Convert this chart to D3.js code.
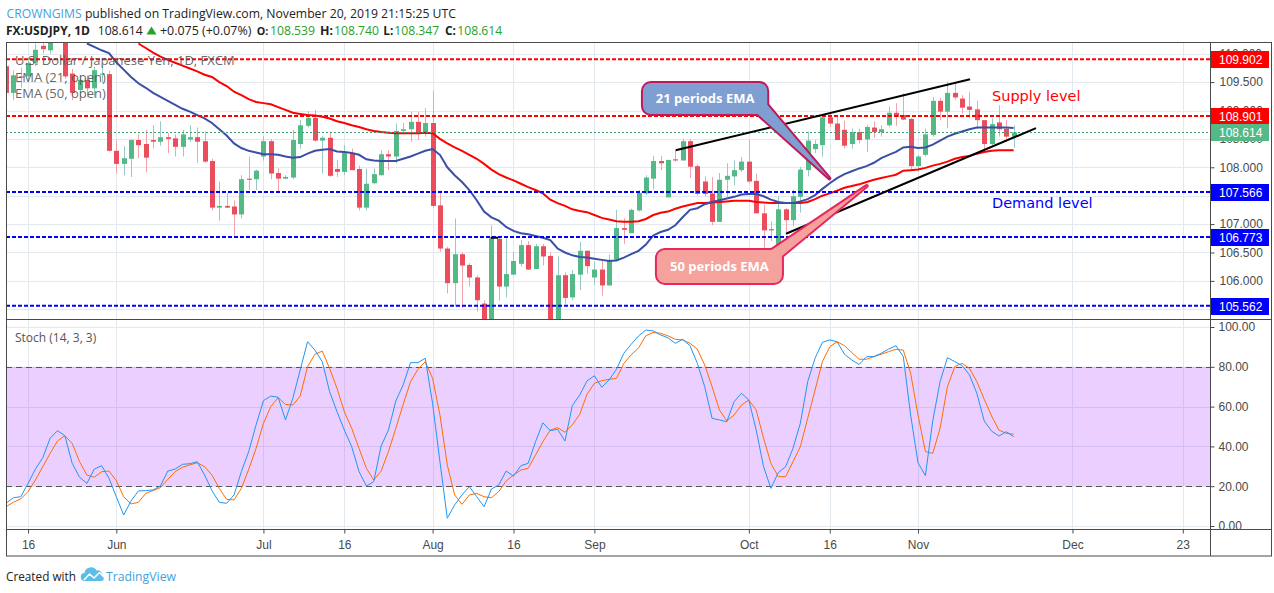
<!DOCTYPE html>
<html>
<head>
<meta charset="utf-8">
<title>USDJPY 1D</title>
<script src="https://cdn.jsdelivr.net/npm/d3@7/dist/d3.min.js"></script>
<style>
  body { margin: 0; background: #fff; }
  svg { display: block; }
</style>
</head>
<body>
<svg id="chart" width="1274" height="593"></svg>
<script>
// ---- values ----
const firstDay = "2019-05-13";
const lastAxisDay = "2019-12-31";

// daily bars from firstDay, weekdays only: [open, high, low, close]
const ohlc = [
  [109.78,109.85,109.25,109.31],[109.31,109.71,109.18,109.62],[109.60,109.75,109.40,109.58],[109.60,109.92,109.50,109.84],
  [109.84,110.18,109.78,110.07],[110.14,110.30,110.00,110.08],[110.06,110.60,110.00,110.50],[110.50,110.67,110.25,110.35],
  [110.35,110.40,109.56,109.60],[109.65,109.73,109.18,109.31],[109.36,109.62,109.25,109.54],[109.54,109.62,109.24,109.39],
  [109.39,109.77,109.23,109.71],[109.63,109.80,109.50,109.65],[109.64,109.70,108.28,108.29],
  [108.29,108.47,107.89,108.06],[108.06,108.37,107.86,108.16],[108.15,108.50,107.83,108.48],[108.48,108.58,108.16,108.39],
  [108.41,108.66,107.91,108.17],[108.48,108.74,108.33,108.45],[108.45,108.81,108.38,108.53],[108.53,108.60,108.25,108.50],
  [108.51,108.58,108.19,108.36],[108.36,108.66,108.19,108.58],[108.49,108.74,108.45,108.53],[108.53,108.70,108.08,108.45],
  [108.46,108.63,108.08,108.10],[108.11,108.15,107.24,107.29],[107.29,107.75,107.06,107.32],[107.32,107.55,107.28,107.29],
  [107.31,107.42,106.78,107.17],[107.17,107.86,107.10,107.79],[107.80,108.19,107.60,107.78],[107.79,107.96,107.60,107.94],
  [108.19,108.55,108.12,108.46],[108.46,108.50,107.79,107.89],[107.90,107.98,107.57,107.80],[107.80,107.86,107.79,107.83],
  [107.82,108.66,107.79,108.48],[108.41,108.83,108.33,108.74],[108.73,108.99,108.70,108.87],[108.87,109.01,108.45,108.47],
  [108.47,108.55,107.89,108.52],[108.52,108.63,107.83,107.85],[107.97,108.13,107.83,107.92],[107.92,108.39,107.86,108.25],
  [108.25,108.33,107.95,107.95],[107.97,108.03,107.24,107.29],[107.29,107.98,107.24,107.71],[107.72,107.98,107.70,107.88],
  [107.86,108.30,107.86,108.23],[108.23,108.30,107.95,108.19],[108.19,108.77,108.07,108.64],[108.64,108.78,108.60,108.67],
  [108.67,108.98,108.45,108.80],[108.80,108.98,108.48,108.61],[108.61,109.04,108.54,108.78],
  [108.78,109.35,107.28,107.32],[107.33,107.59,106.51,106.57],[106.57,106.60,105.78,105.96],[105.96,107.10,105.55,106.47],
  [106.47,106.50,105.52,106.27],[106.28,106.31,105.90,106.06],[106.06,106.10,105.46,105.66],[105.60,105.66,105.05,105.30],
  [105.30,106.98,105.05,106.75],[106.74,106.76,105.65,105.90],[105.90,106.75,105.71,106.12],[106.11,106.51,106.11,106.35],
  [106.30,106.72,106.25,106.63],[106.63,106.70,106.19,106.20],[106.21,106.65,106.21,106.61],[106.61,106.65,106.27,106.43],
  [106.44,106.50,105.05,105.30],[105.30,106.43,104.45,106.10],[106.10,106.15,105.60,105.70],[105.71,106.19,105.66,106.12],
  [106.11,106.69,105.84,106.53],[106.53,106.54,106.13,106.26],
  [106.06,106.34,105.93,106.20],[106.20,106.38,105.74,105.92],[105.92,106.46,105.92,106.37],[106.37,107.25,106.37,106.93],
  [106.93,107.10,106.65,106.90],[106.84,107.27,106.84,107.25],[107.24,107.60,107.22,107.55],[107.54,107.86,107.51,107.82],
  [107.80,108.20,107.61,108.11],[108.11,108.20,107.95,108.07],[107.47,108.13,107.47,108.13],[108.14,108.30,108.10,108.12],
  [108.12,108.50,108.12,108.46],[108.46,108.50,107.81,108.01],[108.02,108.05,107.50,107.53],[107.75,107.84,107.49,107.53],
  [107.54,107.83,106.98,107.04],[107.04,107.90,107.04,107.78],[107.78,108.07,107.48,107.85],[107.84,108.12,107.68,107.95],
  [107.95,108.18,107.92,108.10],
  [108.10,108.48,107.72,107.75],[107.76,107.89,107.19,107.19],[107.19,107.34,106.51,106.89],[106.91,107.05,106.70,106.89],
  [106.63,107.49,106.63,107.26],[107.26,107.28,106.86,107.07],[107.07,107.60,106.96,107.49],[107.48,108.01,107.20,107.96],
  [107.95,108.63,107.84,108.47],[108.32,108.48,108.25,108.41],[108.39,108.89,108.19,108.88],[108.88,108.94,108.71,108.77],
  [108.77,108.89,108.48,108.48],[108.66,108.82,108.33,108.38],[108.41,108.68,108.33,108.62],[108.62,108.68,108.42,108.48],
  [108.49,108.74,108.27,108.71],[108.70,108.81,108.52,108.62],[108.62,108.74,108.54,108.67],[108.74,109.07,108.71,108.96],
  [108.96,109.13,108.73,108.89],[108.92,109.30,108.83,108.84],[108.85,108.87,107.95,108.02],
  [108.02,108.22,107.92,108.19],[108.22,108.68,108.19,108.58],[108.57,109.24,108.54,109.17],[109.17,109.22,108.83,108.98],
  [108.98,109.51,108.69,109.31],[109.31,109.50,109.19,109.23],[109.21,109.27,108.95,109.05],[109.07,109.33,108.86,109.01],
  [109.02,109.17,108.67,108.83],[108.83,108.83,108.28,108.41],[108.41,108.86,108.39,108.76],[108.79,109.09,108.54,108.67],
  [108.68,108.84,108.45,108.54],[108.539,108.740,108.347,108.614]
];

// EMA (21, open), one value per bar from ema21Start
const ema21Start = "2019-05-28";
const ema21 = [
  110.18,110.12,110.06,110.01,109.85,109.72,109.59,109.48,109.40,109.31,
  109.24,109.17,109.10,109.03,108.98,108.92,108.86,108.78,108.67,108.56,
  108.42,108.34,108.29,108.26,108.23,108.23,108.22,108.19,108.17,108.18,
  108.24,108.29,108.31,108.32,108.28,108.27,108.25,108.22,108.14,108.12,
  108.11,108.11,108.11,108.15,108.19,108.24,108.29,108.32,108.22,108.00,
  107.86,107.74,107.60,107.42,107.22,107.12,107.06,106.95,106.88,106.84,
  106.82,106.79,106.76,106.72,106.57,106.50,106.45,106.42,106.41,106.39,
  106.37,106.35,106.36,106.41,106.47,106.53,106.64,106.80,106.86,106.90,
  106.98,107.12,107.25,107.28,107.35,107.39,107.42,107.45,107.48,107.52,
  107.53,107.53,107.49,107.43,107.39,107.37,107.37,107.40,107.44,107.51,
  107.62,107.72,107.81,107.88,107.93,107.98,108.02,108.08,108.16,108.22,
  108.27,108.35,108.36,108.34,108.35,108.40,108.47,108.54,108.59,108.63,
  108.67,108.70,108.70,108.70,108.70,108.70,108.69
];

// EMA (50, open), one value per bar from ema50Start
const ema50Start = "2019-06-06";
const ema50 = [
  110.18,110.10,110.02,109.95,109.89,109.84,109.79,109.74,109.69,109.63,
  109.59,109.50,109.43,109.33,109.27,109.20,109.15,109.13,109.11,109.06,
  109.01,108.96,108.94,108.92,108.91,108.89,108.86,108.81,108.78,108.74,
  108.71,108.67,108.64,108.62,108.61,108.60,108.60,108.60,108.60,108.61,
  108.60,108.50,108.42,108.35,108.29,108.22,108.15,108.06,107.96,107.88,
  107.82,107.77,107.71,107.65,107.60,107.54,107.43,107.37,107.32,107.26,
  107.23,107.21,107.16,107.11,107.08,107.05,107.04,107.04,107.05,107.09,
  107.16,107.20,107.22,107.27,107.31,107.34,107.37,107.37,107.38,107.39,
  107.40,107.41,107.41,107.41,107.39,107.38,107.37,107.37,107.37,107.37,
  107.37,107.39,107.44,107.50,107.54,107.59,107.64,107.67,107.70,107.74,
  107.78,107.81,107.84,107.87,107.94,107.95,107.96,107.99,108.03,108.06,
  108.10,108.15,108.18,108.20,108.24,108.27,108.29,108.30,108.30,108.30
];

// Stoch (14, 3, 3), one value per bar from firstDay
const stochK = [
  11.4,14.2,14.7,21.4,28.6,34.3,44.1,47.9,45.4,31.5,24.5,21.4,28.6,30.3,24.0,14.7,5.5,12.6,17.6,17.8,
  18.1,20.1,27.6,28.6,31.0,31.3,32.3,25.6,17.8,11.9,11.4,15.6,27.3,37.4,50.8,63.0,65.3,64.7,53.3,64.2,
  78.4,92.6,88.4,82.6,67.5,57.5,48.2,39.9,27.3,20.1,22.3,40.2,48.2,62.8,70.9,82.1,82.1,84.3,61.6,32.3,
  3.9,10.6,15.6,19.8,14.7,9.7,18.6,20.6,27.6,25.1,30.3,31.5,42.4,51.9,47.9,48.6,42.7,60.5,65.8,72.9,
  75.5,69.7,73.4,78.7,86.8,91.3,95.5,98.5,98.0,96.0,94.6,91.8,93.8,90.6,81.7,70.0,54.1,53.3,52.4,62.5,
  66.7,63.3,48.2,29.8,18.9,26.8,29.8,39.0,51.6,72.5,84.3,92.3,93.5,92.6,86.3,83.4,81.2,85.1,85.1,86.8,
  88.9,90.6,85.1,55.8,31.8,25.3,52.8,72.5,84.6,82.6,80.6,75.9,66.7,52.8,47.7,45.2,47.4,44.9
];
const stochD = [
  9.7,11.9,13.6,17.3,23.1,29.8,36.5,42.7,45.4,41.5,32.3,25.6,24.5,27.3,27.6,22.8,14.7,11.1,11.9,16.4,
  17.8,19.3,23.5,27.3,29.5,30.7,31.8,29.8,25.6,18.9,13.4,13.1,18.9,28.5,39.0,51.6,60.0,64.5,61.1,60.8,
  65.3,80.1,86.3,87.9,79.2,69.2,57.5,49.1,39.0,29.0,23.1,27.6,37.4,49.1,61.1,72.5,78.7,82.6,74.2,55.8,
  30.7,15.6,10.9,15.6,16.4,14.7,14.2,17.3,22.6,25.6,28.1,29.0,35.7,42.4,48.2,49.4,47.1,50.8,56.1,66.2,
  71.7,73.0,73.7,74.2,81.7,86.0,89.5,95.6,97.3,96.8,95.6,93.8,93.5,91.8,88.8,80.9,70.0,58.3,52.8,55.8,
  60.8,63.3,58.3,44.1,31.5,24.8,24.8,32.3,39.9,54.1,68.3,82.6,90.1,92.6,90.6,87.1,83.8,83.8,85.1,86.3,
  87.6,88.8,88.4,76.7,55.8,37.4,36.5,49.1,70.0,80.1,81.7,79.2,72.5,63.7,55.3,48.2,46.6,46.1
];

const supplyLevels = [109.902, 108.901];
const demandLevels = [107.566, 106.773, 105.562];
const lastPrice = 108.614;

const priceTicks = [105.5, 106, 106.5, 107, 107.5, 108, 108.5, 109, 109.5, 110];
const stochTicks = [0, 20, 40, 60, 80, 100];
const stochBand = [20, 80];
const timeTickDays = ["2019-05-16","2019-06-03","2019-07-01","2019-07-16","2019-08-01","2019-08-16",
                      "2019-09-02","2019-10-01","2019-10-16","2019-11-01","2019-12-02","2019-12-23"];
const timeTickLabels = ["16","Jun","Jul","16","Aug","16","Sep","Oct","16","Nov","Dec","23"];

// hand drawings, anchored at [bar index, price]
const trendLines = [
  [[91.05, 108.30], [131.07, 109.55]],
  [[106.05, 106.83], [140.04, 108.69]]
];
const markSegment = [[65.9, 106.76], [66.9, 106.76]];
const callouts = [
  { text: "21 periods EMA", box: [86.6, 103.5, 109.484, 108.938],
    wedge: [[102.2, 108.938], [111.94, 107.806], [103.5, 109.10]], fill: "#7f9ed2", stroke: "#c2185b" },
  { text: "50 periods EMA", box: [88.5, 105.5, 106.544, 105.963],
    wedge: [[104.1, 106.544], [117.02, 107.671], [105.5, 106.44]], fill: "#f5a29c", stroke: "#e5285f" }
];
const zoneNotes = [
  { text: "Supply level", at: [134.06, 109.167], color: "#ff0000" },
  { text: "Demand level", at: [134.06, 107.283], color: "#0000ff" }
];

// ---- layout ----
const svg = d3.select("#chart");
const F = { left: 6, right: 1210, edge: 1271, top: 42.5, main: 319, stoch: 529, bottom: 556 };
const frameColor = "#4a4a4a";
const gridColor = "#e2eaf0";
const upColor = "#53b987", downColor = "#eb4d5c";
const upWick = "#98c9c6", downWick = "#f2a2aa";
const axisFont = "'Liberation Sans', Arial, sans-serif";
const uiFont = "'Open Sans', 'Noto Sans', sans-serif";

// shrink/grow a text to a measured width
function fit(sel, width) {
  const n = sel.node(), fs = parseFloat(sel.attr("font-size"));
  const w = n.getComputedTextLength();
  if (w > 0) sel.attr("font-size", (fs * width / w).toFixed(2));
  return sel;
}

const parse = d3.utcParse("%Y-%m-%d");
const days = d3.utcDay.range(parse(firstDay), d3.utcDay.offset(parse(lastAxisDay), 1))
  .filter(d => d.getUTCDay() % 6 !== 0);
const dayIdx = new Map(days.map((d, i) => [+d, i]));
const idx = s => dayIdx.get(+parse(s));

const x = d3.scaleLinear().domain([0, 163.7]).range([F.left, F.right]);
const y = d3.scaleLinear().domain([105.3292, 110.1972]).range([F.main, F.top]);
const ys = d3.scaleLinear().domain([0, 100]).range([526, 327]);
const crisp = v => Math.round(v) + 0.5;

const defs = svg.append("defs");
defs.append("clipPath").attr("id", "clipMain").append("rect")
  .attr("x", F.left).attr("y", F.top).attr("width", F.right - F.left).attr("height", F.main - F.top);
defs.append("clipPath").attr("id", "clipStoch").append("rect")
  .attr("x", F.left).attr("y", F.main).attr("width", F.right - F.left).attr("height", F.stoch - F.main);

// grid
const tickIdx = timeTickDays.map(idx);
const grid = svg.append("g").attr("stroke", gridColor).attr("stroke-width", 1);
grid.selectAll(".vg").data(tickIdx).join("line").attr("class", "vg")
  .attr("x1", d => crisp(x(d))).attr("x2", d => crisp(x(d)))
  .attr("y1", F.top).attr("y2", F.stoch);
grid.selectAll(".hg").data(priceTicks).join("line").attr("class", "hg")
  .attr("x1", F.left).attr("x2", F.right)
  .attr("y1", d => crisp(y(d))).attr("y2", d => crisp(y(d)));
grid.selectAll(".sg").data(stochTicks).join("line").attr("class", "sg")
  .attr("x1", F.left).attr("x2", F.right)
  .attr("y1", d => crisp(ys(d))).attr("y2", d => crisp(ys(d)));

// ---- main pane ----
const main = svg.append("g").attr("clip-path", "url(#clipMain)");
const bars = ohlc.map((r, i) => ({ i, o: r[0], h: r[1], l: r[2], c: r[3] }));

main.selectAll(".wick").data(bars).join("line").attr("class", "wick")
  .attr("x1", d => crisp(x(d.i))).attr("x2", d => crisp(x(d.i)))
  .attr("y1", d => y(d.h)).attr("y2", d => y(d.l))
  .attr("stroke", d => d.c >= d.o ? upWick : downWick);
main.selectAll(".body").data(bars).join("rect").attr("class", "body")
  .attr("x", d => Math.round(x(d.i)) - 2)
  .attr("width", 5)
  .attr("y", d => y(Math.max(d.o, d.c)))
  .attr("height", d => Math.max(1, Math.abs(y(d.o) - y(d.c))))
  .attr("fill", d => d.c >= d.o ? upColor : downColor);

const emaLine = start => d3.line().x((d, k) => x(idx(start) + k)).y(d => y(d));
main.append("path").datum(ema50).attr("d", emaLine(ema50Start))
  .attr("fill", "none").attr("stroke", "#ff0000").attr("stroke-width", 2);
main.append("path").datum(ema21).attr("d", emaLine(ema21Start))
  .attr("fill", "none").attr("stroke", "#3b4fa6").attr("stroke-width", 2);

// horizontal levels
main.selectAll(".sup").data(supplyLevels).join("line").attr("class", "sup")
  .attr("x1", F.left).attr("x2", F.right).attr("y1", d => y(d)).attr("y2", d => y(d))
  .attr("stroke", "#ff0000").attr("stroke-width", 2).attr("stroke-dasharray", "4,2");
main.selectAll(".dem").data(demandLevels).join("line").attr("class", "dem")
  .attr("x1", F.left).attr("x2", F.right).attr("y1", d => y(d)).attr("y2", d => y(d))
  .attr("stroke", "#0000ff").attr("stroke-width", 2).attr("stroke-dasharray", "4,2");
main.append("line")
  .attr("x1", F.left).attr("x2", F.right).attr("y1", crisp(y(lastPrice))).attr("y2", crisp(y(lastPrice)))
  .attr("stroke", "#3f9e6a").attr("stroke-dasharray", "2,2");

// trend lines
main.selectAll(".trend").data(trendLines).join("line").attr("class", "trend")
  .attr("x1", d => x(d[0][0])).attr("y1", d => y(d[0][1]))
  .attr("x2", d => x(d[1][0])).attr("y2", d => y(d[1][1]))
  .attr("stroke", "#000").attr("stroke-width", 2);
main.append("line")
  .attr("x1", x(markSegment[0][0])).attr("y1", y(markSegment[0][1]))
  .attr("x2", x(markSegment[1][0])).attr("y2", y(markSegment[1][1]))
  .attr("stroke", "#000").attr("stroke-width", 2);

// callouts
callouts.forEach(c => {
  const g = main.append("g");
  const bx = x(c.box[0]), bw = x(c.box[1]) - bx, by = y(c.box[2]), bh = y(c.box[3]) - by;
  const wedge = "M" + c.wedge.map(([i, p]) => [x(i), y(p)]).join("L") + "Z";
  g.append("path").attr("d", wedge).attr("fill", c.stroke).attr("stroke", c.stroke)
    .attr("stroke-width", 4).attr("stroke-linejoin", "round");
  g.append("rect").attr("x", bx).attr("y", by).attr("width", bw).attr("height", bh).attr("rx", 8)
    .attr("fill", c.stroke).attr("stroke", c.stroke).attr("stroke-width", 4);
  g.append("path").attr("d", wedge).attr("fill", c.fill);
  g.append("rect").attr("x", bx).attr("y", by).attr("width", bw).attr("height", bh).attr("rx", 8)
    .attr("fill", c.fill);
  g.append("text").attr("x", bx + bw / 2).attr("y", by + bh / 2).attr("dy", "0.36em")
    .attr("text-anchor", "middle").attr("fill", "#fff")
    .attr("font-family", uiFont).attr("font-weight", 700).attr("font-size", 13)
    .text(c.text);
});

main.selectAll(".zone").data(zoneNotes).join("text").attr("class", "zone")
  .attr("x", d => x(d.at[0])).attr("y", d => y(d.at[1]))
  .attr("fill", d => d.color).attr("font-family", "'DejaVu Sans', sans-serif").attr("font-size", 14.5)
  .text(d => d.text);

// legend
const legend = svg.append("g").attr("font-family", uiFont).attr("font-size", 13)
  .attr("fill", "#555").attr("fill-opacity", 0.9);
["U.S. Dollar / Japanese Yen, 1D, FXCM", "EMA (21, open)", "EMA (50, open)"].forEach((t, k) => {
  legend.append("text").attr("x", 15).attr("y", 65 + k * 16.5).text(t);
});

// ---- stochastic pane ----
const sto = svg.append("g").attr("clip-path", "url(#clipStoch)");
sto.append("rect").attr("x", F.left).attr("width", F.right - F.left)
  .attr("y", ys(stochBand[1])).attr("height", ys(stochBand[0]) - ys(stochBand[1]))
  .attr("fill", "rgba(153,21,255,0.2)");
sto.selectAll(".band").data(stochBand).join("line").attr("class", "band")
  .attr("x1", F.left).attr("x2", F.right).attr("y1", d => crisp(ys(d))).attr("y2", d => crisp(ys(d)))
  .attr("stroke", "#555").attr("stroke-dasharray", "6,4");
const stochLine = d3.line().x((d, i) => x(i)).y(d => ys(d));
sto.append("path").datum(stochD).attr("d", stochLine).attr("fill", "none").attr("stroke", "#ff6d00").attr("stroke-width", 1);
sto.append("path").datum(stochK).attr("d", stochLine).attr("fill", "none").attr("stroke", "#2196f3").attr("stroke-width", 1);
svg.append("text").attr("x", 15).attr("y", 341.5).attr("font-family", uiFont).attr("font-size", 12)
  .attr("fill", "#555").text("Stoch (14, 3, 3)");

// ---- frame ----
const frame = svg.append("g").attr("stroke", frameColor).attr("fill", "none");
frame.append("rect").attr("x", F.left + 0.5).attr("y", F.top).attr("width", F.edge - F.left).attr("height", F.bottom - F.top);
frame.append("line").attr("x1", F.left).attr("x2", F.edge).attr("y1", F.main + 0.5).attr("y2", F.main + 0.5);
frame.append("line").attr("x1", F.left).attr("x2", F.edge).attr("y1", F.stoch + 0.5).attr("y2", F.stoch + 0.5);
frame.append("line").attr("x1", F.right + 0.5).attr("x2", F.right + 0.5).attr("y1", F.top).attr("y2", F.bottom);

// ---- axes ----
const priceTags = [
  ...supplyLevels.map(v => ({ v, color: "#ff0000" })),
  { v: lastPrice, color: "#53b987" },
  ...demandLevels.map(v => ({ v, color: "#0000ff" }))
];
// scale labels that sit fully under a price tag are not drawn (as on the original)
const shownPriceTicks = priceTicks.filter(t => priceTags.every(p => Math.abs(y(t) - y(p.v)) > 5));

function styleAxis(g) {
  g.select(".domain").remove();
  g.selectAll(".tick line").attr("stroke", frameColor);
  g.selectAll(".tick text").attr("fill", "#4a4a4a").attr("font-family", axisFont).attr("font-size", 12);
}
svg.append("g").attr("transform", `translate(${F.right + 0.5},0)`)
  .call(d3.axisRight(y).tickValues(shownPriceTicks).tickFormat(d3.format(".3f")).tickSize(4).tickPadding(5))
  .call(styleAxis);
svg.append("g").attr("transform", `translate(${F.right + 0.5},0)`)
  .call(d3.axisRight(ys).tickValues(stochTicks).tickFormat(d3.format(".2f")).tickSize(4).tickPadding(4))
  .call(styleAxis);
svg.append("g").attr("transform", `translate(0,${F.stoch + 0.5})`)
  .call(d3.axisBottom(x).tickValues(tickIdx).tickFormat((d, k) => timeTickLabels[k]).tickSize(4).tickPadding(7))
  .call(styleAxis);

// price labels on the scale
const tags = svg.append("g");
tags.selectAll("rect").data(priceTags).join("rect")
  .attr("x", F.right + 1).attr("width", F.edge - F.right - 3)
  .attr("y", d => Math.round(y(d.v)) - 8).attr("height", 17)
  .attr("fill", d => d.color);
tags.selectAll("text").data(priceTags).join("text")
  .attr("x", F.right + 9).attr("y", d => Math.round(y(d.v)) + 0.5).attr("dy", "0.36em")
  .attr("fill", "#fff").attr("font-family", axisFont).attr("font-size", 12)
  .text(d => d3.format(".3f")(d.v));

// ---- header ----
const head = svg.append("g").attr("font-family", uiFont).attr("fill", "#222");
const h1 = head.append("text").attr("x", 6.5).attr("y", 17.5).attr("font-size", 13);
h1.append("tspan").attr("fill", "#3fa2de").text("CROWNGIMS");
h1.append("tspan").text(" published on TradingView.com, November 20, 2019 21:15:25 UTC");
fit(h1, 449.5);

const green = "#2a9f2a";
const line2 = [
  { t: "FX:USDJPY, 1D", x: 6, w: 84, b: true }, { t: "108.614", x: 97.7, w: 45 },
  { t: "+0.075 (+0.07%)", x: 160, w: 91.5 },
  { t: "O:", x: 256.7, w: 11.6, b: true }, { t: "108.539", x: 270, w: 45, c: green },
  { t: "H:", x: 320, w: 13, b: true }, { t: "108.740", x: 334, w: 45, c: green },
  { t: "L:", x: 383.3, w: 10, b: true }, { t: "108.347", x: 394.3, w: 45, c: green },
  { t: "C:", x: 445, w: 11, b: true }, { t: "108.614", x: 457.3, w: 45, c: green }
];
line2.forEach(d => fit(head.append("text").attr("x", d.x).attr("y", 34.5).attr("font-size", 13)
  .attr("font-weight", d.b ? 700 : 400).attr("fill", d.c || "#222").text(d.t), d.w));
head.append("path").attr("d", "M146.5,34.5L151.5,26.5L156.5,34.5Z").attr("fill", green);

// ---- footer ----
fit(svg.append("text").attr("x", 6).attr("y", 581).attr("font-family", uiFont).attr("font-size", 13)
  .attr("fill", "#222").text("Created with"), 70);
const logo = svg.append("g");
logo.append("path")
  .attr("d", "M85,581 A4,4 0 0 1 84.5,573 A6.5,6.5 0 0 1 96.5,570.5 A5,5 0 0 1 102.5,576 A2.8,2.8 0 0 1 102,581 Z")
  .attr("fill", "#5bbde9");
logo.append("path").attr("d", "M84,580 L89.5,574 L94,578 L99.5,572.5 L104,577")
  .attr("fill", "none").attr("stroke", "#fff").attr("stroke-width", 1.6).attr("stroke-linejoin", "round");
fit(svg.append("text").attr("x", 106).attr("y", 581).attr("font-family", uiFont).attr("font-size", 13)
  .attr("fill", "#3fa2de").text("TradingView"), 70);
</script>
</body>
</html>
